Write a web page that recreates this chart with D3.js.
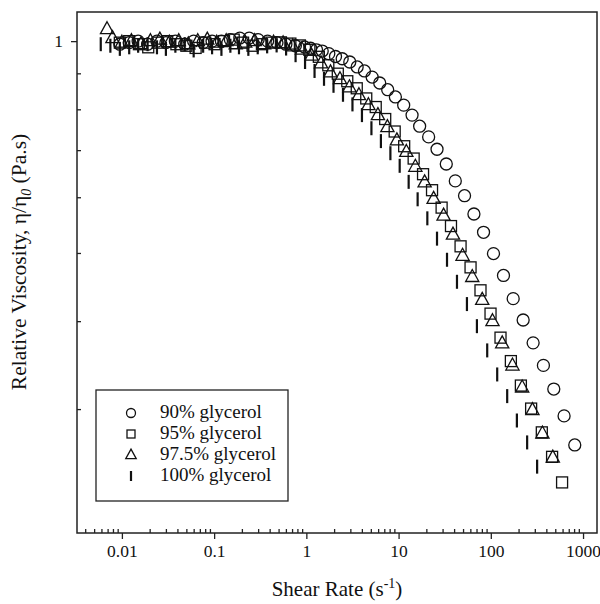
<!DOCTYPE html>
<html>
<head>
<meta charset="utf-8">
<script src="https://cdn.jsdelivr.net/npm/d3@7"></script>
<style>
  body { margin: 0; background: #fff; }
  svg { font-family: "Liberation Serif", "Times New Roman", serif; }
</style>
</head>
<body>
<svg id="chart" width="600" height="604"></svg>
<script>
// shear rate (1/s) and relative viscosity for each glycerol concentration
const shear90 = [0.0095, 0.012, 0.015, 0.019, 0.024, 0.030, 0.038, 0.048, 0.060, 0.076, 0.095, 0.12, 0.15, 0.19, 0.24, 0.30, 0.38, 0.48, 0.60, 0.76,
  0.956, 1.11, 1.289, 1.486, 1.752, 2.07, 2.446, 2.957, 3.555, 4.265, 5.167, 6.245, 7.62, 9.235, 11.36, 14.0, 16.92, 21.18, 26.11, 32.9,
  41.2, 51.9, 65.6, 83.4, 106.9, 137.2, 174.8, 224.2, 287.6, 371.8, 481.8, 622.9, 813.3];
const visc90 = [0.99, 0.995, 1.0, 0.99, 1.0, 0.995, 1.0, 0.99, 1.0, 0.995, 1.0, 1.0, 1.005, 1.01, 1.01, 1.005, 1.0, 0.995, 0.99, 0.985,
  0.981, 0.977, 0.972, 0.968, 0.960, 0.951, 0.944, 0.934, 0.919, 0.907, 0.889, 0.872, 0.853, 0.833, 0.811, 0.785, 0.757, 0.731, 0.702, 0.669,
  0.633, 0.603, 0.568, 0.535, 0.499, 0.4645, 0.4306, 0.4015, 0.3726, 0.3461, 0.3203, 0.2934, 0.2668];

const shear95 = [0.0095, 0.012, 0.0153, 0.0193, 0.0245, 0.031, 0.039, 0.050, 0.063, 0.080, 0.101, 0.128, 0.163, 0.206, 0.261, 0.330, 0.418,
  0.530, 0.671, 0.851, 1.078, 1.366, 1.730, 2.193, 2.778, 3.520, 4.461, 5.652, 7.161, 9.074, 11.50, 14.57, 18.42, 23.05, 29.28, 37.0, 47.0,
  60.3, 77.3, 99.3, 127.4, 165.0, 211.8, 273.6, 357.3, 461.7, 592.6];
const visc95 = [0.995, 1.0, 0.99, 0.98, 0.995, 1.0, 0.99, 0.985, 0.978, 0.995, 0.99, 1.0, 1.005, 0.995, 0.985, 0.99, 0.995,
  0.996, 0.992, 0.986, 0.972, 0.950, 0.924, 0.899, 0.877, 0.857, 0.829, 0.806, 0.775, 0.744, 0.709, 0.681, 0.647, 0.614, 0.580, 0.546, 0.511,
  0.477, 0.4425, 0.410, 0.379, 0.351, 0.324, 0.3005, 0.278, 0.2566, 0.236];

const shear975 = [0.0069, 0.0079, 0.0100, 0.0127, 0.0161, 0.0204, 0.0258, 0.0327, 0.0414, 0.0525, 0.0665, 0.0843, 0.1068, 0.1353, 0.1714, 0.2171, 0.2751, 0.3485, 0.4416,
  0.5595, 0.709, 0.898, 1.138, 1.442, 1.827, 2.316, 2.934, 3.718, 4.712, 5.970, 7.565, 9.585, 12.14, 15.20, 19.16, 23.99, 30.76, 38.89, 49.4,
  62.9, 80.7, 104.3, 132.9, 171.7, 218.7, 282.7, 362.6, 469.9];
const visc975 = [1.04, 1.01, 0.995, 1.0, 0.99, 1.0, 1.005, 0.995, 1.0, 0.99, 1.0, 1.005, 0.995, 1.0, 0.99, 0.995, 1.0, 0.99, 0.995,
  0.993, 0.983, 0.973, 0.954, 0.930, 0.903, 0.883, 0.860, 0.838, 0.811, 0.785, 0.755, 0.723, 0.696, 0.663, 0.630, 0.597, 0.565, 0.531, 0.4955,
  0.4623, 0.429, 0.400, 0.372, 0.346, 0.322, 0.299, 0.277, 0.256];

const shear100 = [0.0059, 0.0075, 0.0095, 0.0120, 0.0150, 0.0190, 0.0240, 0.0300, 0.0380, 0.0480, 0.0600, 0.0760, 0.0950, 0.1200, 0.1500, 0.1860, 0.2350, 0.2970,
  0.3756, 0.476, 0.603, 0.764, 0.968, 1.227, 1.554, 1.970, 2.496, 3.162, 4.007, 5.077, 6.433, 8.152, 10.28, 12.86, 16.09, 20.5, 26.1, 33.5,
  42.97, 55.1, 70.7, 91.4, 117.3, 150.5, 191.7, 247.7, 317.8];
const visc100 = [0.99, 0.985, 0.975, 0.98, 0.985, 0.99, 0.98, 0.975, 0.985, 0.99, 0.97, 0.985, 0.98, 0.975, 0.985, 0.98, 0.975, 0.98,
  0.983, 0.986, 0.976, 0.955, 0.934, 0.907, 0.884, 0.864, 0.839, 0.813, 0.785, 0.752, 0.721, 0.693, 0.665, 0.631, 0.596, 0.560, 0.524, 0.489,
  0.455, 0.423, 0.3935, 0.3635, 0.336, 0.313, 0.289, 0.269, 0.2485];

const seriesNames = ["90% glycerol", "95% glycerol", "97.5% glycerol", "100% glycerol"];
const xMajorTicks = [0.01, 0.1, 1, 10, 100, 1000];
const xTickLabels = ["0.01", "0.1", "1", "10", "100", "1000"];
const yMajorTicks = [1];
const yMinorTicks = [0.3, 0.4, 0.5, 0.6, 0.7, 0.8, 0.9];

const margin = { top: 12, right: 3, bottom: 71, left: 77 },
  width = 600,
  height = 604,
  innerWidth = width - margin.left - margin.right,
  innerHeight = height - margin.top - margin.bottom;

const svg = d3.select("#chart");
const g = svg.append("g").attr("transform", `translate(${margin.left},${margin.top})`);

const x = d3.scaleLog().domain([0.00326, 1417]).range([0, innerWidth]);
const y = d3.scaleLog().domain([0.2, 1.1]).range([innerHeight, 0]);

// minor x ticks: 2..9 of each decade, drawn inward
const xMinorTicks = [];
[0.001, 0.01, 0.1, 1, 10, 100, 1000].forEach((d) => {
  for (let k = 2; k <= 9; k++) {
    const v = d * k;
    if (v > x.domain()[0] && v < x.domain()[1]) xMinorTicks.push(v);
  }
});

// axes
g.append("g")
  .attr("transform", `translate(0,${innerHeight})`)
  .call(d3.axisBottom(x).tickValues(xMajorTicks).tickSize(6).tickPadding(6)
    .tickFormat((d, i) => xTickLabels[i]));
g.append("g")
  .attr("class", "minor")
  .attr("transform", `translate(0,${innerHeight})`)
  .call(d3.axisBottom(x).tickValues(xMinorTicks).tickSize(-4).tickFormat(""));

g.append("g")
  .call(d3.axisLeft(y).tickValues(yMajorTicks).tickSize(6).tickPadding(8).tickFormat(d3.format("d")));
g.append("g")
  .attr("class", "minor")
  .call(d3.axisLeft(y).tickValues(yMinorTicks).tickSize(-4).tickFormat(""));

g.selectAll(".minor text").remove();
g.selectAll(".domain").remove();
g.selectAll(".tick line").attr("stroke", "#222").attr("stroke-width", 1.3);
g.selectAll(".tick text")
  .attr("fill", "#111")
  .style("font-family", "'Liberation Serif', serif")
  .style("font-size", "17.5px");

// frame
g.append("rect")
  .attr("width", innerWidth)
  .attr("height", innerHeight)
  .attr("fill", "none")
  .attr("stroke", "#222")
  .attr("stroke-width", 1.5);

// markers
const zip = (xs, ys) => xs.map((v, i) => ({ x: v, y: ys[i] })).filter((d) => d.y != null);
const plot = g.append("g").attr("fill", "none").attr("stroke", "#111");

plot.selectAll(".bar100")
  .data(zip(shear100, visc100))
  .join("line")
  .attr("x1", (d) => x(d.x)).attr("x2", (d) => x(d.x))
  .attr("y1", (d) => y(d.y) - 7).attr("y2", (d) => y(d.y) + 7)
  .attr("stroke-width", 2.2);

const tri = (s) => `M0,${-s * 0.62}L${s * 0.55},${s * 0.38}L${-s * 0.55},${s * 0.38}Z`;

plot.selectAll(".tri975")
  .data(zip(shear975, visc975))
  .join("path")
  .attr("d", tri(12))
  .attr("transform", (d) => `translate(${x(d.x)},${y(d.y)})`)
  .attr("stroke-width", 1.3);

plot.selectAll(".sq95")
  .data(zip(shear95, visc95))
  .join("rect")
  .attr("x", (d) => x(d.x) - 5.5).attr("y", (d) => y(d.y) - 5.5)
  .attr("width", 11).attr("height", 11)
  .attr("stroke-width", 1.3);

plot.selectAll(".c90")
  .data(zip(shear90, visc90))
  .join("circle")
  .attr("cx", (d) => x(d.x)).attr("cy", (d) => y(d.y))
  .attr("r", 6)
  .attr("stroke-width", 1.3);

// axis titles
svg.append("text")
  .attr("x", margin.left + innerWidth / 2)
  .attr("y", 596)
  .attr("text-anchor", "middle")
  .style("font-size", "21px")
  .attr("fill", "#111")
  .call((t) => {
    t.append("tspan").text("Shear Rate (s");
    t.append("tspan").attr("dy", -8).style("font-size", "14px").text("-1");
    t.append("tspan").attr("dy", 8).text(")");
  });

svg.append("text")
  .attr("transform", "translate(26,262) rotate(-90)")
  .attr("text-anchor", "middle")
  .style("font-size", "21.5px")
  .attr("fill", "#111")
  .call((t) => {
    t.append("tspan").text("Relative Viscosity, η/η");
    t.append("tspan").attr("dy", 5).style("font-size", "14px").style("font-style", "italic").text("0");
    t.append("tspan").attr("dy", -5).text(" (Pa.s)");
  });

// legend
const legend = svg.append("g").attr("transform", "translate(96,390)");
legend.append("rect")
  .attr("width", 192).attr("height", 111)
  .attr("fill", "#fff").attr("stroke", "#222").attr("stroke-width", 1.3);

const items = legend.selectAll(".item")
  .data(seriesNames)
  .join("g")
  .attr("transform", (d, i) => `translate(35,${23 + i * 21})`);

items.each(function (d, i) {
  const it = d3.select(this).append("g").attr("fill", "none").attr("stroke", "#111").attr("stroke-width", 1.3);
  if (i === 0) it.append("circle").attr("r", 4.5);
  if (i === 1) it.append("rect").attr("x", -4).attr("y", -4).attr("width", 8).attr("height", 8);
  if (i === 2) it.append("path").attr("d", tri(9.5));
  if (i === 3) it.append("line").attr("y1", -5).attr("y2", 5).attr("stroke-width", 2.2);
});

items.append("text")
  .attr("x", 29)
  .attr("y", 5)
  .style("font-size", "19px")
  .attr("fill", "#111")
  .text((d) => d);
</script>
</body>
</html>
